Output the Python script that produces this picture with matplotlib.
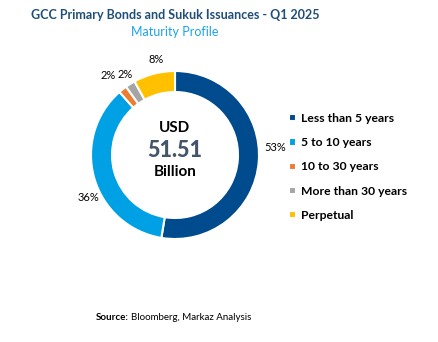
import matplotlib
matplotlib.use("Agg")
import numpy as np
import matplotlib.pyplot as plt

# maturity buckets, share of issuance (%)
categories = ["Less than 5 years", "5 to 10 years", "10 to 30 years",
              "More than 30 years", "Perpetual"]
shares = [52.6, 35.9, 1.6, 1.9, 8.0]
colors = ["#004B8D", "#00A1E4", "#ED7D31", "#A5A5A5", "#FFC000"]
total_usd_bn = 51.51

# label placement tweaks (degrees, radius) to mimic excel's best fit
label_nudge = [9, 10, 1.5, -0.5, -3.5]
label_r = [1.2, 1.15, 1.23, 1.12, 1.16]

plt.rcParams["font.family"] = ["Lato", "DejaVu Sans"]

W, H = 439, 342
fig = plt.figure(figsize=(W / 100, H / 100), dpi=100)

# donut centre and radius in pixels
cx, cy, R = 175, 155, 84
ax = fig.add_axes([(cx - R) / W, (H - cy - R) / H, 2 * R / W, 2 * R / H])

wedges, _ = ax.pie(
    shares, colors=colors, startangle=90, counterclock=False, radius=1.0,
    wedgeprops=dict(width=0.25, edgecolor="white", linewidth=1.5))
ax.set_xlim(-1, 1)
ax.set_ylim(-1, 1)
ax.set_aspect("equal")
ax.axis("off")

for w, s, nd, r in zip(wedges, shares, label_nudge, label_r):
    ang = np.deg2rad((w.theta1 + w.theta2) / 2 + nd)
    ax.text(r * np.cos(ang), r * np.sin(ang), f"{s:.0f}%", ha="center",
            va="center", fontsize=8, color="black")

ax.text(0, 0.32, "USD", ha="center", va="center", fontsize=11,
        fontweight="bold", color="black")
ax.text(0, 0.05, f"{total_usd_bn:.2f}", ha="center", va="center",
        fontsize=15.5, fontweight="black", color="#44546A")
ax.text(0, -0.2, "Billion", ha="center", va="center", fontsize=11,
        fontweight="bold", color="black")

fig.text(175 / W, 1 - 15 / H, "GCC Primary Bonds and Sukuk Issuances - Q1 2025",
         ha="center", va="center", fontsize=9, fontweight="bold", color="#1F4E79")
fig.text(175 / W, 1 - 32 / H, "Maturity Profile", ha="center", va="center",
         fontsize=9, color="#1CA3EC")

leg = fig.legend(wedges, categories, loc="upper left",
                 bbox_to_anchor=(278 / W, 1 - 102 / H), frameon=False,
                 handlelength=0.55, handleheight=0.55, handletextpad=0.45,
                 labelspacing=1.1, prop=dict(size=8.7, weight="bold"))

fig.text(96 / W, 1 - 317 / H, "Source:", ha="left", va="center",
         fontsize=7, fontweight="bold")
fig.text(131 / W, 1 - 317 / H, "Bloomberg, Markaz Analysis", ha="left",
         va="center", fontsize=7)

fig.savefig("out.png", dpi=100)
